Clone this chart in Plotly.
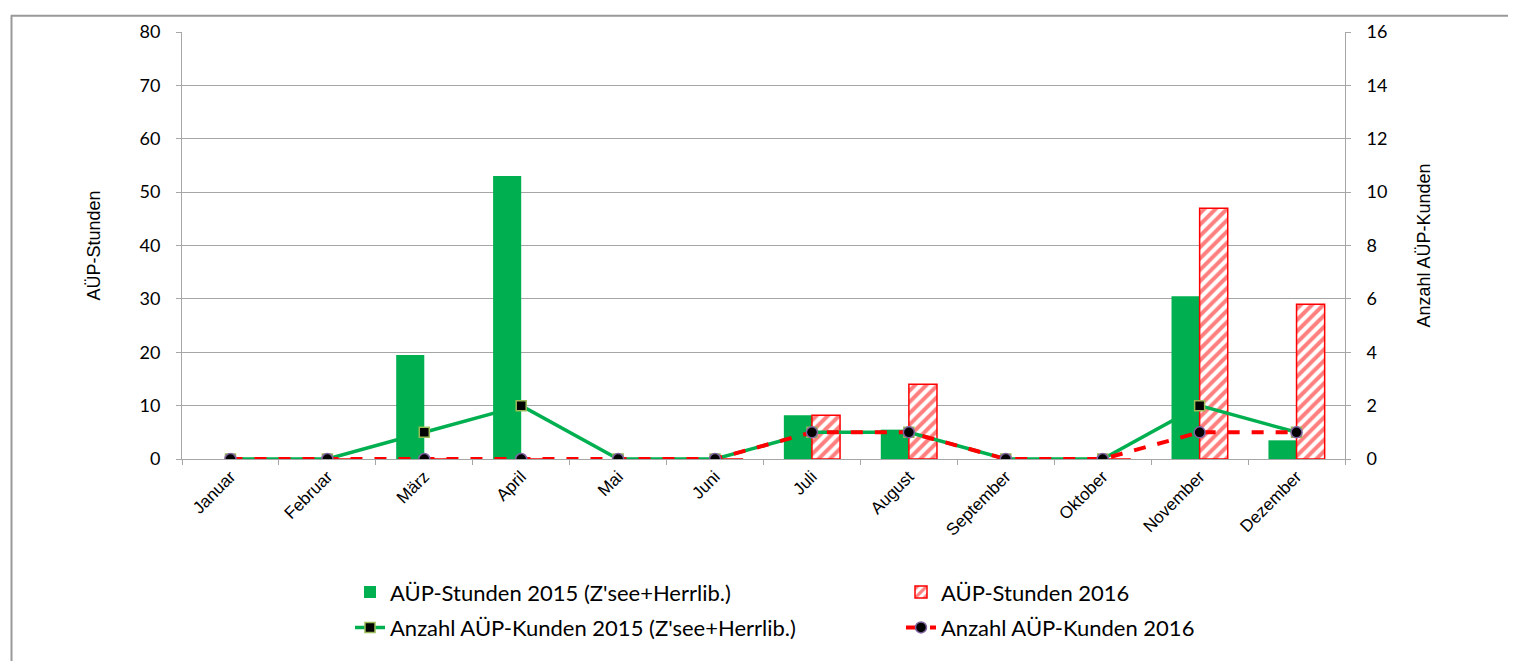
import plotly.graph_objects as go

months = ["Januar", "Februar", "März", "April", "Mai", "Juni", "Juli",
          "August", "September", "Oktober", "November", "Dezember"]
stunden_2015 = [0, 0, 19.5, 53, 0, 0, 8.2, 5.5, 0, 0, 30.5, 3.5]
stunden_2016 = [0, 0, 0, 0, 0, 0, 8.2, 14, 0, 0, 47, 29]
kunden_2015 = [0, 0, 1, 2, 0, 0, 1, 1, 0, 0, 2, 1]
kunden_2016 = [0, 0, 0, 0, 0, 0, 1, 1, 0, 0, 1, 1]

GREEN = "#00b050"
RED = "#ff0000"
GRID = "#a6a6a6"

# figure size fits inside the page's 8px body margin
W, H = 1500, 653
L, R, T, B = 174, 1337, 17, 451
PW, PH = R - L, B - T


def px(x):
    return (x - L) / PW


def py(y):
    return (B - y) / PH


fig = go.Figure()
fig.add_trace(go.Bar(
    x=months, y=stunden_2015, name="AÜP-Stunden 2015 (Z'see+Herrlib.)",
    marker=dict(color=GREEN, line=dict(width=0)), legend="legend"))
fig.add_trace(go.Bar(
    x=months, y=stunden_2016, name="AÜP-Stunden 2016",
    marker=dict(color="white", line=dict(color=RED, width=1.5),
                pattern=dict(shape="/", fgcolor=RED, bgcolor="white",
                             size=8, solidity=0.5)),
    legend="legend"))
fig.add_trace(go.Scatter(
    x=months, y=kunden_2015, name="Anzahl AÜP-Kunden 2015 (Z'see+Herrlib.)",
    mode="lines+markers", yaxis="y2",
    line=dict(color=GREEN, width=3.5),
    marker=dict(symbol="square", size=10, color="black",
                line=dict(color="#9bbb59", width=1.5)),
    legend="legend2"))
fig.add_trace(go.Scatter(
    x=months, y=kunden_2016, name="Anzahl AÜP-Kunden 2016",
    mode="lines+markers", yaxis="y2",
    line=dict(color=RED, width=4, dash="dash"),
    marker=dict(symbol="circle", size=11, color="black",
                line=dict(color="#8064a2", width=1.5)),
    legend="legend2"))

tickfont = dict(family="Lato", size=18, color="black")
legfont = dict(family="Lato", size=22, color="black")
fig.update_layout(
    width=W, height=H,
    margin=dict(l=L, r=W - R, t=T, b=H - B),
    paper_bgcolor="white", plot_bgcolor="white",
    barmode="group", bargap=0.42, bargroupgap=0,
    xaxis=dict(
        type="category", range=[-0.5, len(months) - 0.5],
        tickangle=-45, tickson="boundaries",
        ticks="outside", ticklen=5, tickcolor=GRID,
        showline=True, linecolor=GRID, linewidth=1,
        showgrid=False,
        tickfont=dict(family="Liberation Sans", size=17, color="black"),
    ),
    yaxis=dict(
        range=[0, 80], dtick=10, showgrid=True, gridcolor=GRID, gridwidth=1,
        ticks="outside", ticklen=5, tickcolor=GRID, ticklabelstandoff=12,
        showline=True, linecolor=GRID, linewidth=1,
        tickfont=tickfont, zeroline=False,
        title=dict(text="AÜP-Stunden", standoff=34,
                   font=dict(family="Liberation Sans", size=18, color="black")),
    ),
    yaxis2=dict(
        range=[0, 16], dtick=2, overlaying="y", side="right",
        showgrid=False, ticks="outside", ticklen=5, tickcolor=GRID,
        ticklabelstandoff=12,
        showline=True, linecolor=GRID, linewidth=1,
        tickfont=tickfont, zeroline=False,
        title=dict(text="Anzahl AÜP-Kunden", standoff=30,
                   font=dict(family="Liberation Sans", size=18, color="black")),
    ),
    legend=dict(
        orientation="h", x=px(342), y=py(565),
        xanchor="left", yanchor="top",
        entrywidth=506, entrywidthmode="pixels",
        font=legfont, bgcolor="rgba(0,0,0,0)", traceorder="normal",
    ),
    legend2=dict(
        orientation="h", x=px(342), y=py(601),
        xanchor="left", yanchor="top",
        entrywidth=506, entrywidthmode="pixels",
        font=legfont, bgcolor="rgba(0,0,0,0)", traceorder="normal",
    ),
    shapes=[
        dict(type="line", xref="paper", yref="paper",
             x0=px(3), x1=px(1600), y0=py(0.5), y1=py(0.5),
             line=dict(color="#999999", width=2)),
        dict(type="line", xref="paper", yref="paper",
             x0=px(3.5), x1=px(3.5), y0=py(0), y1=py(700),
             line=dict(color="#999999", width=2)),
    ],
)

fig.write_html("out.html")
